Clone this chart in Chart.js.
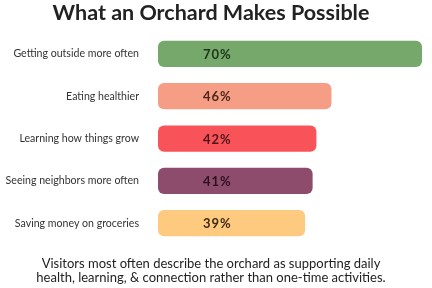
<!DOCTYPE html>
<html><head><meta charset="utf-8">
<script src="https://cdn.jsdelivr.net/npm/chart.js@4.4.1/dist/chart.umd.min.js"></script>
<style>html,body{margin:0;padding:0;background:#fff}#wrap{width:432px;height:288px}</style>
</head><body><div id="wrap"><canvas id="c" width="432" height="288"></canvas></div>
<script>
const categories = ["Getting outside more often","Eating healthier","Learning how things grow","Seeing neighbors more often","Saving money on groceries"];
const values = [70,46,42,41,39];
const barColors = ["#76a86c","#f69d85","#f9535a","#8e4c6d","#fdca80"];
const labelColors = ["#1e3319","#4a261d","#4a1619","#2c1020","#3d2a12"];
const titleText = "What an Orchard Makes Possible";
const noteLines = ["Visitors most often describe the orchard as supporting daily","health, learning, & connection rather than one-time activities."];

const valueLabels = {
  id:'valueLabels',
  afterDatasetsDraw(chart){
    const ctx = chart.ctx;
    const meta = chart.getDatasetMeta(0);
    const xs = chart.scales.x;
    ctx.save();
    ctx.font = "700 13px Lato";
    try{ctx.letterSpacing='1px';}catch(e){}
    ctx.textBaseline='middle';
    ctx.textAlign='left';
    meta.data.forEach((bar,i)=>{
      ctx.fillStyle = labelColors[i];
      ctx.fillText(values[i]+"%", xs.getPixelForValue(0)+45, bar.y+1);
    });
    ctx.restore();
  }
};

new Chart(document.getElementById('c'),{
  type:'bar',
  data:{labels:categories,datasets:[{data:values,backgroundColor:barColors,borderRadius:6,borderSkipped:false,barPercentage:0.62,categoryPercentage:1}]},
  options:{
    indexAxis:'y',responsive:false,animation:false,
    layout:{padding:{left:0,right:10,top:0,bottom:3}},
    plugins:{
      legend:{display:false},tooltip:{enabled:false},
      title:{display:true,text:titleText,color:"#222",font:{family:"Lato",size:21.5,weight:"700",lineHeight:1.1},padding:{top:1,bottom:8}},
      subtitle:{display:true,position:'bottom',text:noteLines,color:"#222",font:{family:"Lato",size:13,weight:"400",lineHeight:1.1},padding:{top:12,bottom:0}}
    },
    scales:{
      x:{display:false,min:0,max:70},
      y:{grid:{display:false,drawTicks:false},border:{display:false},
        ticks:{color:"#333",font:{family:"Lato",size:10.6},padding:19},
        afterFit(s){s.width=158;}}
    }
  },
  plugins:[valueLabels]
});
</script></body></html>
